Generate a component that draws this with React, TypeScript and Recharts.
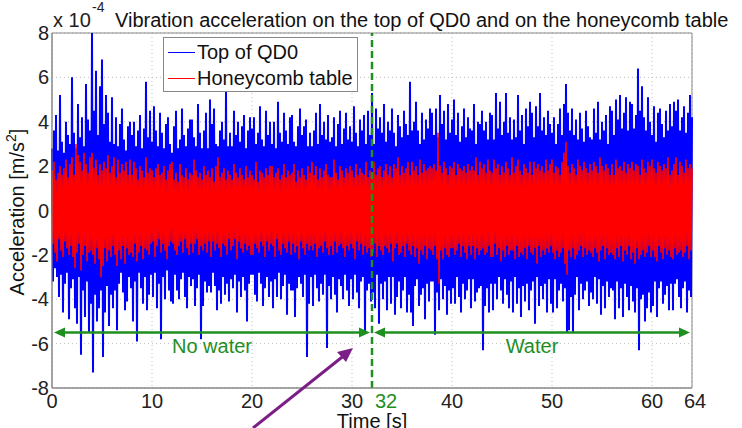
import { LineChart, Line, XAxis, YAxis, CartesianGrid, ReferenceLine, ReferenceArea } from 'recharts'

const FONT = '"Liberation Sans", Arial, sans-serif'

// sampling step of both signals, seconds
const timeStep = 0.1

// acceleration on top of QD0, x 10^-4 m/s^2 (one row = 2 s)
const topQD0 = [
  2.8, -3.2, 3.6, -2.6, 4.3, -3.0, 2.7, -3.9, 5.2, -2.9, 3.1, -4.6, 2.6, -3.3, 4.0, -2.8, 3.4, -4.9, 3.0, -3.5,
  6.0, -3.1, 3.5, -4.4, 2.8, -5.1, 4.8, -3.0, 3.3, -6.5, 4.2, -3.6, 2.9, -4.8, 5.7, -3.2, 4.1, -5.5, 3.6, -4.2,
  8.0, -7.3, 4.5, -3.8, 6.3, -5.0, 3.4, -4.4, 5.6, -3.6, 6.8, -6.6, 3.9, -4.6, 5.2, -3.4, 4.4, -5.2, 3.1, -3.8,
  5.1, -4.4, 3.0, -3.6, 4.2, -5.4, 2.9, -3.3, 3.9, -2.8, 4.6, -3.7, 3.2, -4.5, 2.7, -4.1, 3.8, -3.0, 4.0, -3.5,
  3.4, -5.0, 4.0, -3.2, 2.9, -5.9, 3.6, -2.8, 4.3, -3.5, 2.8, -4.2, 3.7, -3.0, 5.8, -4.5, 3.3, -3.8, 4.5, -2.9,
  3.1, -3.9, 4.7, -2.8, 3.6, -4.4, 2.9, -3.3, 4.4, -5.8, 3.5, -3.0, 2.8, -4.0, 3.9, -2.7, 4.2, -3.6, 3.0, -4.1,
  2.6, -4.2, 3.8, -2.9, 4.5, -3.6, 2.8, -4.0, 3.2, -3.1, 4.6, -2.8, 3.4, -3.9, 2.9, -4.4, 3.7, -3.0, 4.1, -3.4,
  4.1, -3.1, 3.3, -4.3, 2.9, -3.5, 4.8, -2.9, 3.5, -5.8, 2.8, -4.3, 3.6, -3.2, 4.4, -3.7, 2.8, -3.4, 5.0, -3.7,
  3.9, -2.8, 4.6, -3.4, 3.0, -4.5, 2.9, -3.6, 3.6, -4.2, 4.0, -3.0, 3.2, -3.8, 5.4, -3.3, 2.9, -4.1, 3.5, -3.1,
  2.9, -3.5, 4.5, -2.9, 3.4, -4.6, 4.0, -3.2, 3.1, -3.9, 3.8, -3.0, 4.3, -3.6, 2.8, -5.0, 3.6, -3.3, 4.2, -2.9,
  3.7, -2.9, 4.2, -3.8, 3.0, -4.1, 3.5, -2.8, 4.7, -3.3, 3.2, -4.3, 2.9, -3.5, 4.5, -3.0, 3.4, -3.9, 4.0, -3.2,
  3.0, -4.4, 4.0, -3.1, 2.8, -3.9, 4.9, -2.8, 3.5, -4.0, 3.1, -3.4, 4.4, -2.9, 3.6, -4.7, 3.0, -3.3, 4.2, -3.6,
  4.3, -3.6, 3.1, -4.8, 2.9, -3.5, 3.8, -3.0, 4.6, -3.3, 3.4, -3.9, 3.8, -2.9, 4.1, -6.6, 2.9, -4.2, 3.5, -3.0,
  2.9, -4.3, 3.6, -2.9, 4.4, -3.5, 3.0, -4.1, 4.8, -3.3, 3.4, -3.8, 4.0, -2.9, 3.2, -6.2, 4.3, -3.4, 3.1, -4.0,
  3.3, -3.0, 4.2, -3.8, 2.9, -4.6, 3.9, -3.1, 4.5, -3.4, 3.0, -4.0, 3.7, -2.9, 4.4, -3.6, 3.2, -4.3, 3.8, -3.1,
  3.1, -4.0, 4.7, -2.9, 3.5, -3.7, 2.9, -4.4, 4.1, -3.2, 3.6, -3.0, 4.3, -5.5, 3.0, -3.6, 4.5, -3.3, 3.4, -4.1,
  5.3, -3.7, 3.0, -4.4, 4.6, -2.9, 3.7, -5.1, 4.2, -3.3, 3.5, -4.0, 4.8, -3.2, 3.1, -4.5, 4.0, -3.0, 3.6, -4.2,
  4.6, -3.0, 3.5, -4.7, 2.9, -3.9, 4.3, -3.2, 3.8, -4.4, 3.3, -3.6, 4.5, -3.0, 3.9, -4.6, 3.4, -3.8, 5.8, -4.6,
  3.6, -5.2, 4.0, -3.4, 4.9, -3.1, 3.6, -4.3, 3.0, -3.8, 4.4, -3.5, 3.2, -4.9, 4.1, -3.3, 3.7, -4.1, 4.6, -3.2,
  4.4, -3.2, 3.4, -5.6, 4.6, -3.7, 3.3, -4.5, 5.2, -3.1, 3.9, -4.0, 4.5, -3.4, 3.2, -4.7, 4.8, -3.6, 3.5, -4.2,
  4.1, -3.5, 5.0, -4.2, 3.4, -3.0, 4.4, -3.9, 3.1, -4.6, 3.8, -3.3, 4.6, -4.0, 3.3, -3.6, 4.2, -3.1, 3.7, -4.4,
  3.6, -3.1, 4.8, -4.1, 3.0, -3.7, 4.0, -3.5, 3.9, -3.4, 4.5, -6.3, 3.6, -4.3, 4.0, -3.5, 3.2, -4.6, 4.4, -3.3,
  4.3, -4.5, 3.2, -3.3, 5.3, -4.0, 3.7, -3.0, 4.9, -3.6, 3.4, -4.2, 4.0, -3.1, 5.3, -3.8, 3.5, -4.4, 4.2, -3.2,
  3.2, -4.6, 4.1, -3.0, 3.3, -4.2, 5.2, -3.5, 3.6, -4.8, 4.3, -3.4, 3.0, -4.1, 4.6, -3.3, 3.8, -4.5, 4.9, -3.6,
  4.4, -3.2, 3.3, -5.1, 4.7, -3.0, 3.8, -4.3, 5.3, -3.4, 3.6, -4.0, 4.2, -3.3, 3.4, -4.6, 4.5, -3.1, 3.9, -4.2,
  3.5, -4.6, 4.2, -3.1, 3.0, -4.4, 3.9, -3.6, 4.6, -3.3, 3.4, -4.1, 4.8, -3.5, 5.7, -5.5, 4.4, -5.4, 3.6, -3.9,
  4.6, -5.5, 3.4, -3.8, 4.1, -3.0, 3.2, -4.5, 4.4, -3.3, 3.7, -4.0, 3.1, -3.6, 4.5, -3.2, 3.8, -4.3, 3.3, -3.7,
  3.2, -4.0, 4.6, -3.0, 3.5, -4.2, 4.9, -3.1, 3.2, -4.7, 4.0, -3.4, 3.6, -4.4, 4.3, -3.2, 3.0, -3.9, 4.7, -3.5,
  4.5, -3.6, 3.4, -4.9, 5.0, -3.2, 4.1, -4.4, 5.2, -3.5, 3.7, -4.8, 4.4, -3.3, 5.1, -3.9, 3.6, -4.5, 4.9, -3.4,
  4.8, -4.1, 3.7, -4.6, 4.3, -3.5, 6.4, -6.3, 4.5, -4.0, 5.6, -3.8, 4.2, -5.0, 3.6, -4.4, 5.1, -3.7, 4.0, -4.6,
  3.4, -4.3, 4.7, -3.2, 3.1, -4.8, 4.4, -3.5, 4.6, -3.2, 3.9, -4.2, 3.3, -3.8, 4.5, -3.4, 3.6, -4.5, 4.8, -3.3,
  3.8, -4.5, 4.9, -3.3, 4.5, -3.1, 5.0, -3.9, 3.6, -4.4, 4.2, -3.5, 4.7, -3.2, 3.5, -4.6, 4.4, -3.6, 5.2, -3.9,
  4.2,
]

// acceleration on the honeycomb table, x 10^-4 m/s^2 (one row = 2 s)
const honeycombTable = [
  1.8, -1.5, 2.2, -1.9, 1.4, -2.3, 1.7, -1.3, 2.0, -1.8, 1.6, -2.1, 1.9, -1.4, 2.3, -1.7, 1.5, -2.0, 2.1, -1.6,
  2.4, -2.1, 1.6, -2.6, 3.0, -1.9, 2.5, -1.5, 2.2, -2.7, 1.8, -2.0, 2.6, -1.6, 2.1, -2.3, 1.7, -1.9, 2.4, -1.8,
  2.6, -2.0, 1.9, -2.4, 2.3, -1.7, 1.6, -2.2, 2.1, -3.0, 1.8, -2.5, 2.2, -1.7, 1.9, -2.3, 2.5, -1.8, 1.7, -2.1,
  2.0, -1.6, 2.4, -2.0, 1.5, -2.5, 2.3, -1.8, 1.7, -2.2, 2.1, -1.6, 1.8, -2.4, 2.2, -1.7, 1.6, -2.0, 2.3, -1.9,
  1.6, -2.1, 2.2, -1.5, 1.9, -2.3, 1.4, -1.9, 2.0, -1.6, 1.8, -2.2, 1.5, -1.7, 2.4, -1.8, 1.7, -2.0, 1.9, -1.5,
  1.8, -1.4, 1.5, -2.1, 1.9, -1.6, 2.1, -1.3, 1.6, -1.9, 1.7, -1.5, 2.0, -1.8, 1.4, -2.2, 1.8, -1.6, 2.1, -1.4,
  2.2, -1.5, 1.4, -1.8, 1.7, -2.0, 1.3, -1.6, 2.1, -1.4, 1.6, -1.9, 1.5, -1.3, 1.9, -1.7, 1.4, -2.0, 1.7, -1.5,
  1.6, -1.9, 2.3, -1.5, 1.8, -1.3, 1.5, -2.0, 1.7, -1.6, 1.4, -1.8, 2.0, -1.5, 1.6, -1.9, 1.8, -1.4, 1.5, -2.1,
  1.9, -1.4, 1.3, -1.8, 2.0, -1.5, 2.4, -1.7, 1.5, -2.1, 1.7, -1.5, 1.9, -1.6, 1.4, -2.0, 1.8, -1.3, 1.6, -1.8,
  1.4, -1.6, 2.1, -1.3, 1.7, -2.2, 1.5, -1.4, 1.9, -1.7, 1.6, -1.9, 1.4, -1.5, 2.0, -1.8, 1.5, -1.6, 1.8, -2.0,
  1.6, -2.0, 1.4, -1.5, 2.2, -1.7, 1.3, -1.9, 1.8, -1.4, 1.7, -1.6, 1.5, -2.1, 1.9, -1.4, 1.6, -1.8, 2.0, -1.5,
  2.0, -1.6, 1.5, -2.1, 1.7, -1.3, 1.9, -1.8, 1.4, -2.0, 1.6, -1.5, 2.1, -1.7, 1.5, -1.9, 1.8, -1.4, 1.6, -2.0,
  1.7, -1.5, 2.1, -1.9, 1.3, -1.6, 1.8, -2.2, 1.5, -1.4, 1.9, -1.7, 1.6, -2.0, 1.4, -1.5, 2.0, -1.8, 1.7, -1.6,
  2.2, -1.8, 1.6, -1.5, 2.0, -2.1, 1.4, -1.7, 1.9, -1.6, 1.5, -1.9, 1.8, -1.4, 2.1, -1.7, 1.6, -2.0, 1.5, -1.6,
  1.5, -2.0, 2.3, -1.4, 1.7, -1.9, 1.4, -1.6, 2.0, -1.5, 1.8, -1.7, 1.5, -2.1, 1.9, -1.6, 1.7, -1.8, 2.0, -1.5,
  1.8, -1.7, 1.5, -2.2, 2.1, -1.4, 1.6, -1.8, 1.9, -1.5, 1.7, -2.0, 1.6, -1.6, 2.2, -1.9, 1.5, -1.7, 1.8, -2.1,
  1.7, -1.9, 2.2, -1.5, 1.6, -2.1, 1.9, -1.6, 2.0, -1.8, 1.5, -2.0, 1.8, -1.6, 2.1, -1.7, 1.6, -1.9, 2.0, -1.5,
  1.5, -2.3, 2.1, -1.7, 1.9, -1.5, 2.4, -2.0, 1.6, -1.9, 2.0, -1.6, 1.7, -2.1, 1.9, -1.5, 2.2, -1.8, 1.6, -2.0,
  2.2, -1.6, 1.8, -2.1, 2.0, -1.7, 1.6, -2.4, 2.3, -1.8, 1.7, -2.0, 2.1, -1.6, 1.8, -2.2, 1.9, -1.7, 2.0, -1.8,
  1.9, -2.0, 2.1, -1.6, 1.8, -2.2, 3.5, -3.3, 2.0, -1.8, 1.7, -2.2, 2.2, -1.7, 1.9, -2.0, 1.6, -2.1, 2.0, -1.7,
  1.9, -1.7, 2.2, -2.0, 1.6, -1.8, 2.1, -1.5, 1.9, -2.1, 1.8, -1.6, 2.0, -1.9, 1.7, -2.2, 2.1, -1.6, 1.8, -2.0,
  2.0, -1.6, 1.8, -2.2, 2.4, -1.7, 1.6, -2.0, 2.2, -1.8, 1.9, -1.7, 2.1, -2.0, 1.7, -1.9, 2.3, -1.6, 1.8, -2.1,
  1.7, -2.1, 2.3, -1.5, 1.9, -2.0, 2.1, -1.7, 1.6, -2.3, 2.0, -1.8, 1.7, -2.1, 2.2, -1.6, 1.9, -2.0, 1.6, -1.8,
  2.4, -1.8, 1.7, -2.2, 2.0, -1.6, 2.3, -2.1, 1.8, -1.9, 1.6, -2.0, 2.1, -1.7, 1.9, -2.2, 1.7, -1.6, 2.2, -1.9,
  1.6, -2.0, 2.2, -1.7, 1.9, -2.4, 2.1, -1.6, 1.8, -2.1, 2.0, -1.8, 1.7, -2.0, 2.3, -1.7, 1.8, -1.9, 2.1, -1.6,
  2.3, -1.9, 1.7, -2.2, 2.0, -1.8, 1.9, -2.1, 1.6, -1.9, 2.2, -1.7, 2.6, -2.4, 3.1, -2.9, 2.0, -1.8, 1.7, -2.1,
  2.1, -1.7, 1.9, -2.2, 1.6, -2.0, 2.3, -1.8, 2.0, -1.6, 1.8, -2.1, 2.2, -1.7, 1.9, -2.0, 1.7, -1.8, 2.1, -1.9,
  1.8, -2.1, 2.2, -1.7, 2.0, -1.9, 1.7, -2.3, 2.4, -1.8, 2.0, -1.6, 1.8, -2.2, 2.1, -1.7, 1.9, -2.0, 1.6, -1.9,
  2.1, -2.0, 1.6, -2.2, 2.3, -1.7, 1.9, -2.1, 2.0, -1.6, 1.8, -2.3, 2.2, -1.8, 1.7, -2.0, 2.1, -1.6, 1.9, -2.2,
  2.2, -1.9, 1.8, -2.4, 2.1, -1.7, 2.0, -2.2, 1.6, -2.0, 2.3, -1.8, 1.9, -2.1, 1.7, -1.9, 2.2, -1.6, 2.0, -2.1,
  2.3, -1.8, 1.9, -2.1, 1.7, -2.3, 2.2, -1.6, 2.0, -1.9, 1.8, -2.2, 2.1, -1.7, 1.9, -2.0, 2.4, -1.8, 1.6, -2.1,
  1.8, -2.2, 2.1, -1.7, 2.4, -2.0, 1.6, -1.9, 2.2, -1.8, 2.0, -2.1, 1.7, -1.9, 2.3, -1.6, 1.9, -2.2, 2.1, -1.8,
  1.9,
]

const xTicks = [0, 10, 20, 30, 32, 40, 50, 60, 64]
const yTicks = [-8, -6, -4, -2, 0, 2, 4, 6, 8]
const xDomain = [0, 64]
const yDomain = [-8, 8]

// the water switch and the two annotated periods
const switchTime = 32
const periodLevel = -5.5
const periods = [
  { label: 'No water', from: 0, to: 32 },
  { label: 'Water', from: 32, to: 64 },
]

const GREEN = '#1f8f1f'
const AXIS = '#888888'

const series = [
  { key: 'qd0', name: 'Top of QD0', color: '#0000ff', width: 2 },
  { key: 'table', name: 'Honeycomb table', color: '#ff0000', width: 1.6 },
]

const data = topQD0.map((v, i) => ({
  t: Math.round(i * timeStep * 10) / 10,
  qd0: v,
  table: honeycombTable[i],
}))

const XTick = ({ x, y, payload }: any) => {
  // the 32 and 64 labels sit a bit right of their tick in the original
  const shift = payload.value === switchTime ? 14 : payload.value === xDomain[1] ? 3 : 0
  return (
    <text
      x={x + shift}
      y={y}
      dy="0.71em"
      textAnchor="middle"
      fontFamily={FONT}
      fontSize={20}
      fill={payload.value === switchTime ? GREEN : '#222'}
    >
      {payload.value}
    </text>
  )
}

// double headed arrow drawn along a reference segment
const PeriodArrow = (props: any) => {
  const { x1, y1, x2, y2 } = props
  const a = Math.min(x1, x2) + 2
  const b = Math.max(x1, x2) - 2
  const y = (y1 + y2) / 2
  const head = 11
  const half = 5
  return (
    <g>
      <line x1={a + 4} y1={y} x2={b - 4} y2={y} stroke={GREEN} strokeWidth={2.5} />
      <polygon points={`${a},${y} ${a + head},${y - half} ${a + head},${y + half}`} fill={GREEN} />
      <polygon points={`${b},${y} ${b - head},${y - half} ${b - head},${y + half}`} fill={GREEN} />
    </g>
  )
}

export default function App() {
  return (
    <div style={{ position: 'relative', width: 742, height: 428, background: '#fff', overflow: 'hidden' }}>
      <style>{'body{margin:0}'}</style>
      <LineChart width={742} height={428} data={data} margin={{ top: 33, right: 50, bottom: 0, left: 0 }}>
        <CartesianGrid stroke="#bdbdbd" strokeDasharray="1 3" />
        <XAxis
          dataKey="t"
          type="number"
          domain={xDomain}
          ticks={xTicks}
          interval={0}
          height={40}
          tickSize={0}
          tickMargin={6}
          tick={<XTick />}
          axisLine={{ stroke: AXIS }}
          tickLine={false}
        />
        <YAxis
          type="number"
          domain={yDomain}
          ticks={yTicks}
          interval={0}
          width={52}
          tickSize={0}
          tickMargin={3}
          tick={{ fill: '#222', fontSize: 20, fontFamily: FONT }}
          axisLine={{ stroke: AXIS }}
          tickLine={false}
        />
        {series.map(s => (
          <Line
            key={s.key}
            dataKey={s.key}
            name={s.name}
            stroke={s.color}
            strokeWidth={s.width}
            strokeLinejoin="miter"
            dot={false}
            type="linear"
            isAnimationActive={false}
          />
        ))}
        <ReferenceArea x1={xDomain[0]} x2={xDomain[1]} y1={yDomain[0]} y2={yDomain[1]} fill="none" stroke={AXIS} />
        <ReferenceLine x={switchTime} stroke={GREEN} strokeWidth={2.5} strokeDasharray="7 4" />
        {periods.map(p => (
          <ReferenceLine
            key={p.label}
            segment={[{ x: p.from, y: periodLevel }, { x: p.to, y: periodLevel }]}
            shape={<PeriodArrow />}
            label={{ value: p.label, position: 'bottom', offset: 6, fill: GREEN, fontSize: 20, fontFamily: FONT }}
          />
        ))}
      </LineChart>
      <div
        style={{
          position: 'absolute',
          left: 163,
          top: 37,
          width: 195,
          height: 55,
          boxSizing: 'border-box',
          border: `1px solid ${AXIS}`,
          background: '#fff',
          padding: '1px 0 0 4px',
          fontFamily: FONT,
          fontSize: 20,
          lineHeight: '26px',
          color: '#111',
        }}
      >
        {series.map(s => (
          <div key={s.key} style={{ display: 'flex', alignItems: 'center', whiteSpace: 'nowrap' }}>
            <span style={{ display: 'inline-block', width: 27, borderTop: `1.5px solid ${s.color}`, marginRight: 2 }} />
            {s.name}
          </div>
        ))}
      </div>
      <svg
        width={742}
        height={428}
        style={{ position: 'absolute', left: 0, top: 0, pointerEvents: 'none' }}
        fontFamily={FONT}
      >
        <text x={53} y={27} fontSize={20} fill="#222">x 10</text>
        <text x={92} y={12} fontSize={14} fill="#222">-4</text>
        <text x={115} y={27} fontSize={20} fill="#111">
          Vibration acceleration on the top of QD0 and on the honeycomb table
        </text>
        <text transform="translate(24,212) rotate(-90)" textAnchor="middle" fontSize={20} fill="#111">
          Acceleration [m/s<tspan dy={-8} fontSize={14}>2</tspan><tspan dy={8}>]</tspan>
        </text>
        <text x={372} y={428} textAnchor="middle" fontSize={20} fill="#111">Time [s]</text>
        <line x1={253} y1={428} x2={346} y2={354} stroke="#7b1f86" strokeWidth={3} />
        <polygon points="353,348 337,352 346,362" fill="#7b1f86" />
      </svg>
    </div>
  )
}
